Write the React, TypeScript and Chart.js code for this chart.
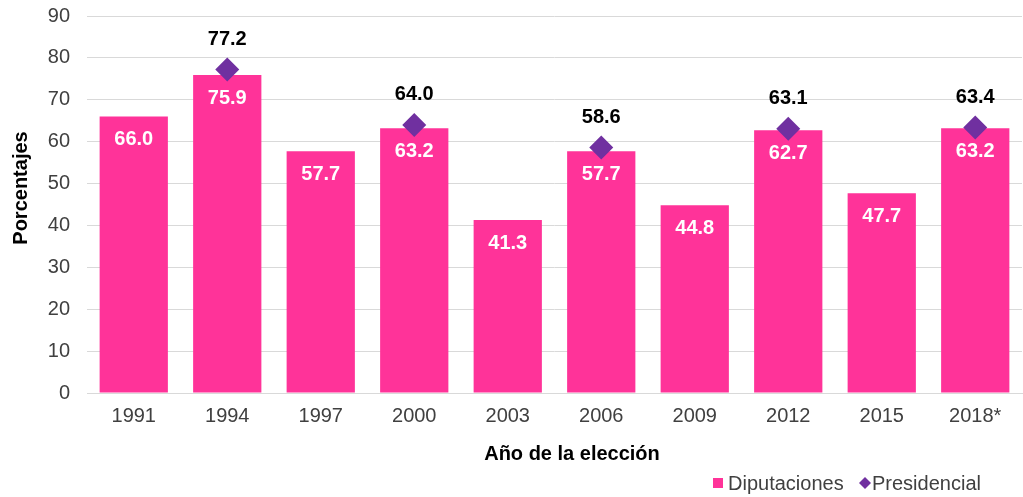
import React, { useEffect, useRef } from "react";
import { Chart, registerables } from "chart.js";

Chart.register(...registerables);

const years = ["1991", "1994", "1997", "2000", "2003", "2006", "2009", "2012", "2015", "2018*"];
const diputaciones = [66.0, 75.9, 57.7, 63.2, 41.3, 57.7, 44.8, 62.7, 47.7, 63.2];
const presidencial = [null, 77.2, null, 64.0, null, 58.6, null, 63.1, null, 63.4];
const yTicksMax = 90;
const yStep = 10;

const PINK = "#FF3399";
const PURPLE = "#7030A0";
const FONT = "'Liberation Sans', Arial, sans-serif";

const labelsPlugin = {
  id: "customLabels",
  afterDatasetsDraw(chart: any) {
    const ctx = chart.ctx;
    ctx.save();
    ctx.textAlign = "center";
    ctx.textBaseline = "middle";
    ctx.font = `bold 20px ${FONT}`;
    chart.data.datasets.forEach((ds: any, i: number) => {
      const meta = chart.getDatasetMeta(i);
      meta.data.forEach((el: any, j: number) => {
        const v = ds.data[j];
        if (v === null || v === undefined) return;
        if (ds.type === "bar") {
          ctx.fillStyle = "#FFFFFF";
          ctx.fillText(v.toFixed(1), el.x, el.y + 23);
        } else {
          ctx.fillStyle = "#000000";
          ctx.fillText(v.toFixed(1), el.x, el.y - 30);
        }
      });
    });
    ctx.restore();
  },
  afterDraw(chart: any) {
    const ctx = chart.ctx;
    ctx.save();
    // axis titles
    ctx.fillStyle = "#000000";
    ctx.font = `bold 20px ${FONT}`;
    ctx.textAlign = "center";
    ctx.textBaseline = "middle";
    ctx.fillText("Año de la elección", 572, 454);
    ctx.translate(21, 188);
    ctx.rotate(-Math.PI / 2);
    ctx.fillText("Porcentajes", 0, 0);
    ctx.restore();

    // legend
    ctx.save();
    ctx.font = `20px ${FONT}`;
    ctx.textBaseline = "middle";
    ctx.textAlign = "left";
    ctx.fillStyle = PINK;
    ctx.fillRect(713, 478, 10, 10);
    ctx.fillStyle = "#404040";
    ctx.fillText(chart.data.datasets[1].label, 728, 484);
    ctx.fillStyle = PURPLE;
    ctx.beginPath();
    ctx.moveTo(865, 477);
    ctx.lineTo(871, 483);
    ctx.lineTo(865, 489);
    ctx.lineTo(859, 483);
    ctx.closePath();
    ctx.fill();
    ctx.fillStyle = "#404040";
    ctx.fillText(chart.data.datasets[0].label, 872, 484);
    ctx.restore();
  },
};

export default function App() {
  const ref = useRef<HTMLCanvasElement>(null);
  useEffect(() => {
    if (!ref.current) return;
    const chart = new Chart(ref.current, {
      type: "bar",
      data: {
        labels: years,
        datasets: [
          {
            type: "line",
            label: "Presidencial",
            data: presidencial as any,
            showLine: false,
            pointStyle: "rectRot",
            pointRadius: 12,
            pointHoverRadius: 12,
            backgroundColor: PURPLE,
            borderColor: PURPLE,
            borderWidth: 0,
            order: 0,
          } as any,
          {
            type: "bar",
            label: "Diputaciones",
            data: diputaciones,
            backgroundColor: PINK,
            borderWidth: 0,
            categoryPercentage: 1,
            barPercentage: 0.73,
            order: 1,
          } as any,
        ],
      },
      options: {
        responsive: false,
        animation: false,
        devicePixelRatio: 1,
        layout: { padding: { top: 16, right: 0, bottom: 0, left: 0 } },
        plugins: {
          legend: { display: false },
          tooltip: { enabled: false },
        },
        scales: {
          x: {
            grid: { display: false, drawTicks: false },
            border: { display: true, color: "#D9D9D9", width: 1 },
            ticks: {
              color: "#404040",
              font: { family: FONT, size: 20 },
              padding: 11,
              maxRotation: 0,
              autoSkip: false,
            },
            afterFit(scale: any) {
              scale.height = 104;
            },
          },
          y: {
            min: 0,
            max: yTicksMax,
            grid: { color: "#D9D9D9", lineWidth: 1, drawTicks: false },
            border: { display: false },
            ticks: {
              stepSize: yStep,
              color: "#404040",
              font: { family: FONT, size: 20 },
              padding: 17,
            },
            afterFit(scale: any) {
              scale.width = 87;
              scale.paddingTop = 0;
              scale.paddingBottom = 0;
            },
          },
        },
      },
      plugins: [labelsPlugin],
    });
    return () => chart.destroy();
  }, []);
  return (
    <div
      style={{
        position: "fixed",
        left: 0,
        top: 0,
        width: 1023,
        height: 497,
        overflow: "hidden",
        background: "#FFFFFF",
      }}
    >
      <canvas ref={ref} width={1034} height={497} style={{ display: "block" }} />
    </div>
  );
}
